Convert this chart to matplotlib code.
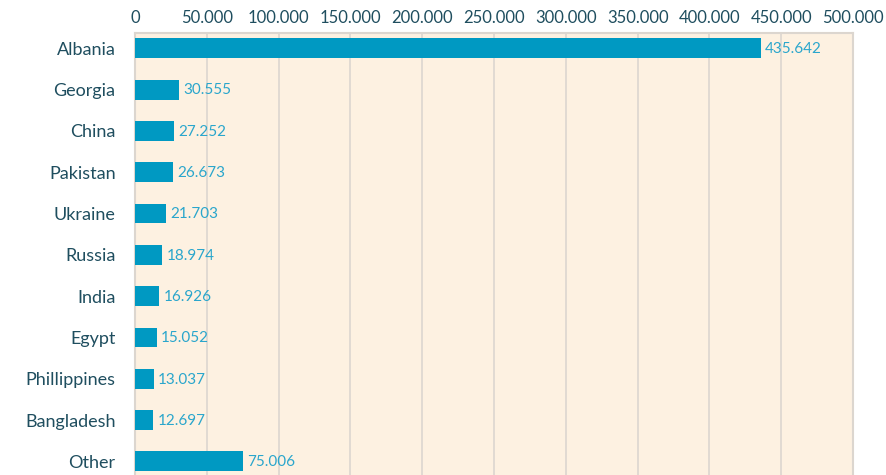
import matplotlib.pyplot as plt
import numpy as np

# data
countries = ['Albania', 'Georgia', 'China', 'Pakistan', 'Ukraine', 'Russia',
             'India', 'Egypt', 'Phillippines', 'Bangladesh', 'Other']
values = [435642, 30555, 27252, 26673, 21703, 18974, 16926, 15052, 13037, 12697, 75006]
xticks = [0, 50000, 100000, 150000, 200000, 250000, 300000, 350000, 400000, 450000, 500000]

plt.rcParams['font.family'] = ['Lato', 'DejaVu Sans']

fig = plt.figure(figsize=(8.86, 4.75), dpi=100)
ax = fig.add_axes([135 / 886, 0, (853 - 135) / 886, 1 - 33 / 475])
ax.set_facecolor('#fdf1e1')

y = np.arange(len(countries))
ax.barh(y, values, height=0.48, color='#0099c2', zorder=3)

# value labels
for yi, v in zip(y, values):
    ax.text(v + 3000, yi + 0.02, f'{v:,}'.replace(',', '.'), va='center', ha='left',
            fontsize=11, color='#2aa6cc', zorder=4)

ax.set_xlim(0, 500000)
ax.set_ylim(10.33, -0.37)
ax.set_yticks(y)
ax.set_yticklabels(countries, fontsize=13, color='#1f4e5f')
ax.xaxis.tick_top()
ax.set_xticks(xticks)
ax.set_xticklabels([f'{t:,}'.replace(',', '.') for t in xticks], fontsize=12, color='#1f4e5f')
ax.tick_params(length=0, pad=5)
ax.tick_params(axis='y', pad=14)
ax.xaxis.grid(True, color='#dcd6cf', linewidth=1.2, zorder=0)

for side in ['left', 'right', 'top']:
    ax.spines[side].set_color('#dcd6cf')
    ax.spines[side].set_linewidth(1.5)
ax.spines['bottom'].set_visible(False)

plt.savefig('out.png', dpi=100)
